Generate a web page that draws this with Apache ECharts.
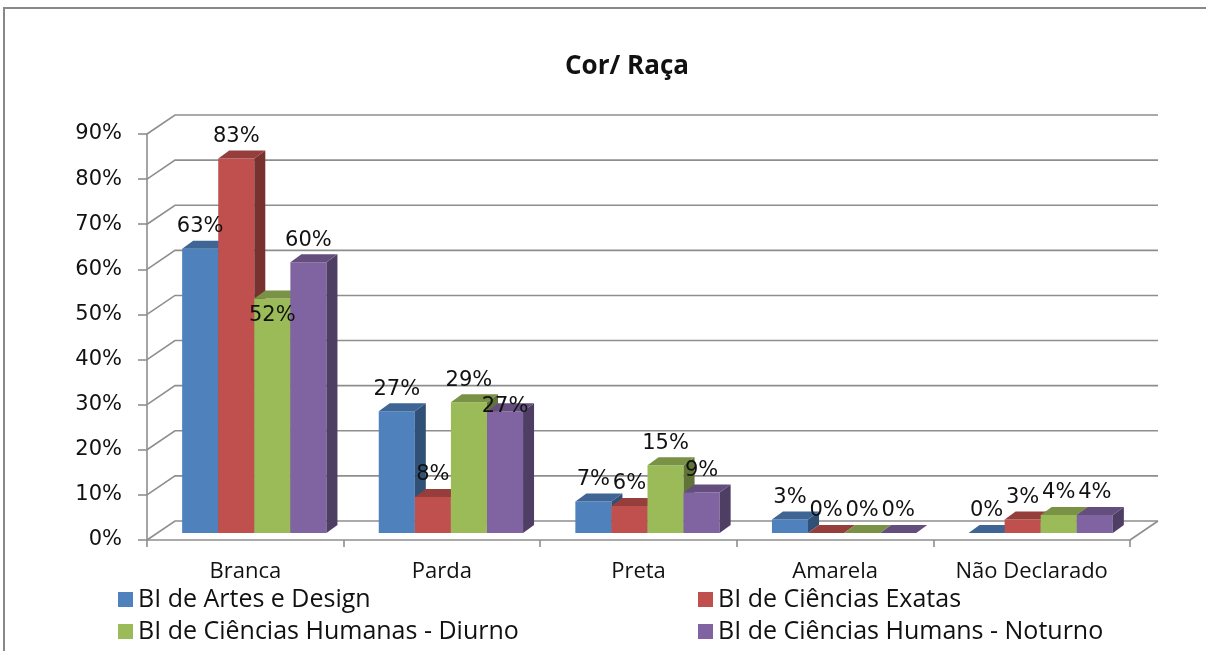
<!DOCTYPE html>
<html>
<head>
<meta charset="utf-8">
<script src="https://cdn.jsdelivr.net/npm/echarts@6/dist/echarts.min.js"></script>
<style>
  html, body { margin: 0; padding: 0; background: #fff; }
  #main { width: 1206px; height: 651px; }
</style>
</head>
<body>
<div id="main"></div>
<script>
// dados
const categories = ['Branca', 'Parda', 'Preta', 'Amarela', 'Não Declarado']
const artesDesign = [63, 27, 7, 3, 0]
const cienciasExatas = [83, 8, 6, 0, 3]
const humanasDiurno = [52, 29, 15, 0, 4]
const humanasNoturno = [60, 27, 9, 0, 4]
const seriesNames = [
  'BI de Artes e Design',
  'BI de Ciências Exatas',
  'BI de Ciências Humanas - Diurno',
  'BI de Ciências Humans - Noturno'
]
const yTicks = [0, 10, 20, 30, 40, 50, 60, 70, 80, 90]

const colors = ['#4F81BD', '#C0504D', '#9BBB59', '#8064A2']
const WALL = [28, -19]      // deslocamento da parede do fundo
const BAR_OFF = [9, -7]     // onde as barras ficam na profundidade
const BAR_DEPTH = [11, -8]  // profundidade de cada barra
// rótulos que o Excel deslocou para baixo (categoria|série)
const labelNudge = { '0|2': 39, '1|3': 17 }

function shade (hex, k) {
  const n = parseInt(hex.slice(1), 16)
  const r = Math.round(((n >> 16) & 255) * k)
  const g = Math.round(((n >> 8) & 255) * k)
  const b = Math.round((n & 255) * k)
  return 'rgb(' + r + ',' + g + ',' + b + ')'
}

function barSeries (name, values, idx) {
  const color = colors[idx]
  return {
    type: 'custom',
    name: name,
    itemStyle: { color: color },
    data: values.map((v, i) => [i, v]),
    encode: { x: 0, y: 1 },
    renderItem: function (params, api) {
      const ci = api.value(0)
      const v = api.value(1)
      const b = api.coord([ci, 0])
      const t = api.coord([ci, v])
      const band = api.size([1, 0])[0]
      const bw = band * 0.1835
      const x = b[0] - 2 * bw + idx * bw + BAR_OFF[0]
      const yb = b[1] + BAR_OFF[1]
      const yt = t[1] + BAR_OFF[1]
      const dx = BAR_DEPTH[0]
      const dy = BAR_DEPTH[1]
      const children = []
      if (yb - yt > 0.5) {
        children.push({
          type: 'rect',
          shape: { x: x, y: yt, width: bw, height: yb - yt },
          style: { fill: color }
        })
        children.push({
          type: 'polygon',
          shape: { points: [[x + bw, yt], [x + bw + dx, yt + dy], [x + bw + dx, yb + dy], [x + bw, yb]] },
          style: { fill: shade(color, 0.62) }
        })
      }
      children.push({
        type: 'polygon',
        shape: { points: [[x, yt], [x + bw, yt], [x + bw + dx, yt + dy], [x + dx, yt + dy]] },
        style: { fill: shade(color, 0.78) }
      })
      const nudge = labelNudge[ci + '|' + idx] || 0
      children.push({
        type: 'text',
        z2: 100,
        style: {
          text: v + '%',
          x: x + bw / 2,
          y: yt - 22 + nudge,
          align: 'center',
          verticalAlign: 'middle',
          font: '21px "DejaVu Sans"',
          fill: '#111'
        }
      })
      return { type: 'group', children: children }
    }
  }
}

const wallSeries = {
  type: 'custom',
  name: 'wall',
  z: 1,
  silent: true,
  data: yTicks.map(v => [0, v]),
  encode: { x: 0, y: 1 },
  renderItem: function (params, api) {
    const v = api.value(1)
    const y = api.coord([0, v])[1]
    const cs = params.coordSys
    const x0 = cs.x
    const x1 = cs.x + cs.width
    const lineStyle = { stroke: '#8e8e8e', lineWidth: 1.6, fill: null }
    const children = [{
      type: 'polyline',
      shape: { points: [[x0, y], [x0 + WALL[0], y + WALL[1]], [x1 + WALL[0], y + WALL[1]]] },
      style: lineStyle
    }]
    if (v === 0) {
      children.push({
        type: 'line',
        shape: { x1: x1, y1: y, x2: x1 + WALL[0], y2: y + WALL[1] },
        style: lineStyle
      })
    }
    return { type: 'group', children: children }
  }
}

const chart = echarts.init(document.getElementById('main'))
const option = {
  animation: false,
  color: colors,
  title: {
    text: 'Cor/ Raça',
    left: 622,
    top: 49,
    textAlign: 'center',
    textStyle: { fontFamily: 'Open Sans', fontWeight: 'bold', fontSize: 26, color: '#111' }
  },
  graphic: [{
    type: 'rect',
    shape: { x: 4, y: 8, width: 1300, height: 700 },
    style: { fill: null, stroke: '#888', lineWidth: 2 },
    silent: true
  }],
  legend: [{
    data: [seriesNames[0], seriesNames[2]],
    orient: 'vertical',
    left: 113,
    top: 582,
    icon: 'rect',
    itemWidth: 15,
    itemHeight: 15,
    itemGap: 7,
    textStyle: { fontFamily: 'Open Sans', fontSize: 25, lineHeight: 25, color: '#111' }
  }, {
    data: [seriesNames[1], seriesNames[3]],
    orient: 'vertical',
    left: 693,
    top: 582,
    icon: 'rect',
    itemWidth: 15,
    itemHeight: 15,
    itemGap: 7,
    textStyle: { fontFamily: 'Open Sans', fontSize: 25, lineHeight: 25, color: '#111' }
  }],
  grid: { left: 147, right: 76, top: 134, bottom: 111 },
  xAxis: {
    type: 'category',
    data: categories,
    axisLine: { lineStyle: { color: '#8e8e8e', width: 1.6 } },
    axisTick: { show: true, length: 7, lineStyle: { color: '#8e8e8e', width: 1.6 } },
    axisLabel: { interval: 0, margin: 21, fontFamily: 'Open Sans', fontSize: 22, color: '#111' },
    splitLine: { show: false }
  },
  yAxis: {
    type: 'value',
    min: 0,
    max: 90,
    interval: 10,
    axisLine: { show: true, lineStyle: { color: '#8e8e8e', width: 1.6 } },
    axisTick: { show: true, length: 9, lineStyle: { color: '#8e8e8e', width: 1.6 } },
    axisLabel: { formatter: '{value}%', margin: 25, fontFamily: 'DejaVu Sans', fontSize: 21, color: '#111' },
    splitLine: { show: false }
  },
  series: [
    wallSeries,
    barSeries(seriesNames[0], artesDesign, 0),
    barSeries(seriesNames[1], cienciasExatas, 1),
    barSeries(seriesNames[2], humanasDiurno, 2),
    barSeries(seriesNames[3], humanasNoturno, 3)
  ]
}
chart.setOption(option)
</script>
</body>
</html>
